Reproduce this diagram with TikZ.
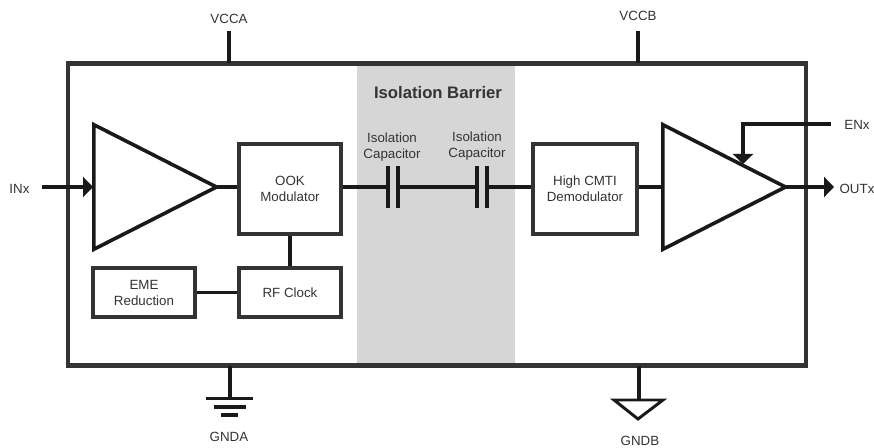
\documentclass[tikz,border=0pt]{standalone}
\usepackage{fontspec}
\setmainfont{Liberation Sans}
\usetikzlibrary{positioning,arrows.meta,shapes.geometric}
\definecolor{boxline}{HTML}{333333}
\definecolor{barrier}{HTML}{D6D6D6}
\definecolor{labeltext}{HTML}{333333}

\begin{document}
\begin{tikzpicture}[
		x=0.75pt, y=-0.75pt,
		every node/.style={font=\fontsize{10}{12}\selectfont, text=labeltext, align=center},
		blockbox/.style={rectangle, draw=boxline, fill=white, line width=3.3pt, inner sep=0pt},
		chipbox/.style={rectangle, draw=boxline, line width=3.6pt, inner sep=0pt, minimum width=553.5pt, minimum height=227pt},
		amptri/.style={isosceles triangle, isosceles triangle stretches, draw=black!90, fill=white, line width=2.7pt, inner sep=0pt, minimum width=93.5pt, minimum height=92pt, anchor=lower side},
		plate/.style={rectangle, fill=black!90, inner sep=0pt, minimum width=2.8pt, minimum height=31.5pt},
		wire/.style={draw=black!90, line width=2.6pt},
		arrowwire/.style={wire, -{Triangle[length=7.5pt, width=15pt]}},
	]
		\useasboundingbox (0,0) rectangle (874,448);

		% barrier and chip outline
		\fill[barrier] (357,63) rectangle (515,366);
		\node[chipbox] (chip) at (437,214.5) {};
		\node[font=\fontsize{12.5}{14}\selectfont\bfseries] (barriertxt) at (438,93) {Isolation Barrier};

		% lines that run under the amplifiers
		\coordinate (inxend) at (42,187);
		\draw[arrowwire] (inxend) -- (93,187);

		% nodes
		\node[amptri] (ampin) at (92,187) {};
		\node[amptri] (ampout) at (661,187) {};
		\node[blockbox, minimum width=76.5pt, minimum height=67.5pt] (ook) at (290,189) {OOK\\Modulator};
		\node[blockbox, minimum width=76.5pt, minimum height=36.5pt] (rfclock) at (290,292.5) {RF Clock};
		\node[blockbox, minimum width=76.5pt, minimum height=36.5pt] (eme) at (144,292.5) {EME\\Reduction};
		\node[blockbox, minimum width=78pt, minimum height=67.5pt] (demod) at (585,189) {High CMTI\\Demodulator};

		% capacitors
		\node[plate] (capAl) at (388,187) {};
		\node[plate] (capAr) at (398,187) {};
		\node[plate] (capBl) at (477,187) {};
		\node[plate] (capBr) at (487,187) {};
		\node (capAtxt) at (392,147) {Isolation\\Capacitor};
		\node (capBtxt) at (477,146) {Isolation\\Capacitor};

		% pin labels
		\node (inx) at (19.5,189) {INx};
		\node (enx) at (857,125) {ENx};
		\node (outx) at (857,189) {OUTx};
		\node (vcca) at (229,19) {VCCA};
		\node (vccb) at (638,16) {VCCB};
		\node (gnda) at (229,437) {GNDA};
		\node (gndb) at (640,441) {GNDB};
		\coordinate (enxend) at (831,124);
		\coordinate (enxtip) at (743,164);
		\coordinate (outxtip) at (834,187);
		\coordinate (vccaend) at (229,31);
		\coordinate (vccbend) at (638,31);
		\coordinate (vccatop) at (229,63);
		\coordinate (vccbtop) at (638,63);
		\coordinate (gndaup) at (230,366);
		\coordinate (gndbup) at (639,366);

		% ground symbols
		\coordinate (gndatop) at (230,398.5);
		\coordinate (gndbtop) at (639,400);
		\draw[wire] (206,398.5) -- (253,398.5);
		\draw[wire] (214,407) -- (246,407);
		\draw[wire] (221,415) -- (238,415);
		\draw[draw=black!90, line width=2.2pt, line join=miter] (614,400) -- (663,400) -- (638,419) -- cycle;

		% lines
		\draw[wire, shorten <=-4pt] (ampin.apex) -- (ook.west |- ampin.apex);
		\draw[wire] (ook.south) -- (rfclock.north);
		\draw[wire] (rfclock.west) -- (eme.east);
		\draw[wire] (ook.east |- capAl) -- (capAl);
		\draw[wire] (capAr) -- (capBl);
		\draw[wire] (capBr) -- (demod.west |- capBr);
		\draw[wire] (demod.east |- ampout.lower side) -- (ampout.lower side);
		\draw[arrowwire, shorten <=-4pt] (ampout.apex) -- (outxtip);
		\draw[arrowwire] (enxend) -| (enxtip);
		\draw[wire] (vccaend) -- (vccatop);
		\draw[wire] (vccbend) -- (vccbtop);
		\draw[wire] (gndaup) -- (gndatop);
		\draw[wire] (gndbup) -- (gndbtop);
	\end{tikzpicture}
\end{document}
